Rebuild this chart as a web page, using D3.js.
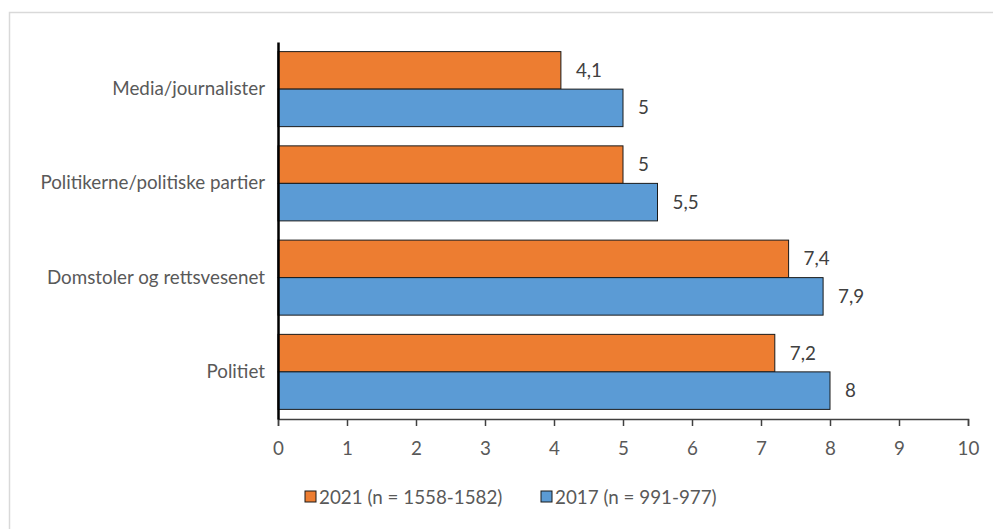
<!DOCTYPE html>
<html>
<head>
<meta charset="utf-8">
<script src="https://d3js.org/d3.v7.min.js"></script>
<style>
  body { margin: 0; background: #fff; }
  text { font-family: Lato, "Open Sans", sans-serif; }
</style>
</head>
<body>
<div id="chart"></div>
<script>
var categories = ["Media/journalister", "Politikerne/politiske partier", "Domstoler og rettsvesenet", "Politiet"];
var seriesNames = ["2021 (n = 1558-1582)", "2017 (n = 991-977)"];
var values2021 = [4.1, 5, 7.4, 7.2];
var values2017 = [5, 5.5, 7.9, 8];
var xTicks = [0, 1, 2, 3, 4, 5, 6, 7, 8, 9, 10];
var colors = ["#ED7D31", "#5B9BD5"];

var W = 993, H = 529;
var FS = 18.8;

var svg = d3.select("#chart").append("svg")
  .attr("width", W).attr("height", H);

// outer chart-area border
svg.append("rect")
  .attr("x", 9.5).attr("y", 12.5)
  .attr("width", W + 20).attr("height", H + 20)
  .attr("fill", "none").attr("stroke", "#d9d9d9").attr("stroke-width", 1.5);

var x = d3.scaleLinear().domain([0, 10]).range([278, 968]);
var y = d3.scaleBand().domain(categories).range([42, 419]).paddingInner(0.204).paddingOuter(0.102);
var sub = d3.scaleBand().domain([0, 1]).range([0, y.bandwidth()]);

var data = categories.map(function(c, i) {
  return {cat: c, vals: [values2021[i], values2017[i]]};
});

var g = svg.selectAll("g.cat").data(data).enter().append("g")
  .attr("transform", function(d) { return "translate(0," + y(d.cat) + ")"; });

g.selectAll("rect").data(function(d) { return d.vals; }).enter().append("rect")
  .attr("x", x(0))
  .attr("y", function(d, i) { return sub(i); })
  .attr("width", function(d) { return x(d) - x(0); })
  .attr("height", sub.bandwidth())
  .attr("fill", function(d, i) { return colors[i]; })
  .attr("stroke", "#1a1a1a").attr("stroke-width", 1);

g.selectAll("text").data(function(d) { return d.vals; }).enter().append("text")
  .attr("x", function(d) { return x(d) + 15; })
  .attr("y", function(d, i) { return sub(i) + sub.bandwidth() / 2; })
  .attr("dy", "0.35em")
  .attr("font-size", FS).attr("fill", "#404040")
  .text(function(d) { return String(d).replace(".", ","); });

// x axis
var xAxis = svg.append("g").attr("transform", "translate(0,419)")
  .call(d3.axisBottom(x).tickValues(xTicks).tickSize(7).tickPadding(16).tickFormat(d3.format("d")));
xAxis.select(".domain").attr("stroke", "#404040").attr("stroke-width", 1.5);
xAxis.selectAll(".tick line").attr("stroke", "#404040").attr("stroke-width", 1.5);
xAxis.selectAll(".tick text").attr("font-size", FS).attr("fill", "#595959")
  .style("font-family", "Lato, sans-serif");

// y axis
var yAxis = svg.append("g").attr("transform", "translate(278,0)")
  .call(d3.axisLeft(y).tickSize(0).tickPadding(13));
yAxis.select(".domain").attr("stroke", "#000").attr("stroke-width", 2.5);
yAxis.selectAll(".tick text").attr("font-size", FS).attr("fill", "#595959")
  .style("font-family", "Lato, sans-serif");

// legend
var legX = [305, 541];
var leg = svg.selectAll("g.leg").data(seriesNames).enter().append("g")
  .attr("transform", function(d, i) { return "translate(" + legX[i] + ",491)"; });
leg.append("rect").attr("width", 11).attr("height", 11)
  .attr("fill", function(d, i) { return colors[i]; })
  .attr("stroke", "#1a1a1a").attr("stroke-width", 1);
leg.append("text").attr("x", 14).attr("y", 6).attr("dy", "0.35em")
  .attr("font-size", FS).attr("fill", "#595959")
  .text(function(d) { return d; });
</script>
</body>
</html>
